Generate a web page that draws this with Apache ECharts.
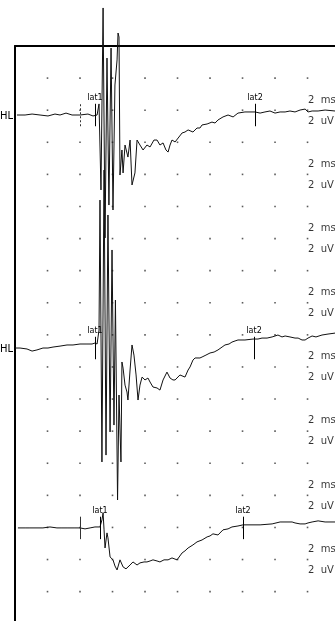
<!DOCTYPE html>
<html><head><meta charset="utf-8">
<script src="https://cdn.jsdelivr.net/npm/echarts@6/dist/echarts.min.js"></script>
<style>html,body{margin:0;padding:0;background:#fff;}#c{width:335px;height:621px;}</style>
</head><body><div id="c"></div>
<script>
// time (ms) , amplitude (uV, relative to trace baseline; positive = up)
const trace1 = [[0.12,0],[0.62,0],[1.05,0.06],[1.54,0],[2.03,-0.06],[2.46,0.06],[2.77,0],[3.14,0.12],[3.51,0],[4.00,0],[4.49,0.06],[4.80,-0.06],[5.05,0],[5.17,0.69],[5.29,-4.67],[5.42,6.67],[5.54,-7.66],[5.66,3.55],[5.78,-5.61],[5.91,4.17],[6.03,-5.92],[6.15,1.87],[6.28,3.43],[6.34,5.11],[6.40,4.86],[6.46,-3.74],[6.58,-2.18],[6.65,-3.61],[6.77,-1.87],[6.95,-2.62],[7.08,-1.56],[7.20,-4.36],[7.38,-3.61],[7.51,-1.56],[7.69,-1.87],[7.88,-2.18],[8.12,-1.87],[8.31,-1.99],[8.55,-1.56],[8.74,-1.56],[8.92,-1.87],[9.11,-1.74],[9.29,-2.18],[9.42,-2.31],[9.54,-1.87],[9.66,-1.56],[9.85,-1.68],[9.97,-1.68],[10.28,-1.12],[10.46,-1.06],[10.65,-0.93],[10.95,-1.06],[11.20,-0.81],[11.38,-0.81],[11.51,-0.62],[11.82,-0.56],[12.12,-0.44],[12.31,-0.50],[12.49,-0.31],[12.80,-0.12],[13.11,0],[13.42,-0.12],[13.72,0.12],[14.15,0.19],[14.46,0.19],[14.77,0.19],[15.08,0.12],[15.38,0.19],[15.69,0.25],[16.00,0.12],[16.31,0.19],[16.62,0.19],[16.92,0.25],[17.23,0.19],[17.54,0.31],[17.85,0.37],[18.03,0.19],[18.28,0.25],[18.65,0.25],[19.08,0.31],[19.69,0.25]];
const trace2 = [[0,0],[0.31,0],[0.74,-0.06],[1.05,-0.19],[1.35,-0.12],[1.72,0],[2.03,0],[2.34,0.06],[2.77,0.12],[3.20,0.19],[3.57,0.19],[4.00,0.25],[4.37,0.25],[4.74,0.25],[4.92,0.31],[5.05,0.25],[5.17,1.12],[5.23,9.22],[5.35,-7.10],[5.48,11.09],[5.60,-6.67],[5.72,8.29],[5.85,-5.23],[5.97,6.11],[6.09,-4.80],[6.18,2.99],[6.31,-9.47],[6.40,-2.93],[6.52,-7.10],[6.58,-0.87],[6.65,-1.25],[6.77,-2.31],[6.89,-2.74],[6.95,-3.24],[7.08,-1.37],[7.20,0.19],[7.32,-0.44],[7.45,-1.68],[7.57,-3.24],[7.69,-2.31],[7.82,-1.81],[8.00,-1.99],[8.18,-1.87],[8.31,-2.12],[8.49,-2.43],[8.74,-2.49],[8.92,-2.62],[9.11,-1.99],[9.35,-1.50],[9.54,-1.87],[9.72,-1.99],[9.85,-1.99],[10.15,-1.68],[10.46,-1.81],[10.65,-1.37],[10.77,-1.18],[10.95,-0.75],[11.08,-0.62],[11.38,-0.62],[11.51,-0.56],[11.75,-0.44],[12.00,-0.31],[12.25,-0.25],[12.49,-0.12],[12.74,0.06],[12.92,0.19],[13.17,0.25],[13.35,0.37],[13.54,0.44],[13.72,0.50],[14.15,0.50],[14.65,0.56],[14.95,0.56],[15.20,0.62],[15.51,0.62],[15.82,0.69],[16.00,0.75],[16.18,0.81],[16.43,0.69],[16.62,0.75],[16.92,0.69],[17.23,0.62],[17.42,0.62],[17.66,0.50],[17.85,0.50],[18.03,0.62],[18.28,0.75],[18.52,0.69],[18.89,0.81],[19.26,0.87],[19.69,0.93]];
const trace3 = [[0.18,0],[0.62,0],[0.92,0],[1.72,0],[2.15,0.06],[2.58,0],[2.89,0],[3.26,0],[3.69,0],[4.00,0],[4.31,-0.06],[4.62,0],[4.92,0.06],[5.23,0.06],[5.35,0.50],[5.42,0.93],[5.48,-0.12],[5.54,-1.25],[5.66,-0.31],[5.72,-0.62],[5.85,-1.81],[6.03,-1.99],[6.15,-2.37],[6.28,-2.62],[6.46,-1.99],[6.65,-2.43],[6.83,-2.55],[6.95,-2.55],[7.08,-2.31],[7.26,-2.12],[7.38,-2.24],[7.51,-2.31],[7.69,-2.18],[7.94,-2.12],[8.12,-2.12],[8.31,-2.06],[8.49,-1.99],[8.74,-2.06],[8.92,-2.12],[9.17,-1.99],[9.42,-1.99],[9.66,-1.87],[9.97,-1.99],[10.28,-1.56],[10.46,-1.43],[10.65,-1.25],[10.95,-1.06],[11.20,-0.87],[11.51,-0.75],[11.82,-0.56],[12.00,-0.50],[12.18,-0.37],[12.49,-0.44],[12.80,-0.12],[13.11,-0.06],[13.35,0.06],[13.72,0.12],[14.03,0.19],[14.46,0.19],[15.08,0.19],[15.82,0.25],[16.31,0.37],[17.05,0.37],[17.23,0.31],[17.54,0.25],[17.85,0.25],[18.03,0.31],[18.28,0.37],[18.65,0.44],[19.08,0.37],[19.69,0.37]];

const traceLabels = ['HL', 'HL', ''];
const baselinesUv = [-4.30, -18.82, -30.03];
const lat1Ms = [4.92, 4.92, 5.23];
const lat2Ms = [14.77, 14.71, 14.03];
const stimMs = [4.00, null, 4.00];
const scaleTexts = ['2  ms', '2  uV'];
const scaleRowsMsUv = [-3.36, -7.36, -11.36, -15.36, -19.36, -23.36, -27.36, -31.36];
const scaleRowsUvUv = [-4.67, -8.67, -12.67, -16.67, -20.67, -24.67, -28.67, -32.67];
const scaleXMs = 18.03;
const xMaxMs = 19.69;
const yMinUv = -35.83;
const divMs = 2, divUv = 2;

const FONT = 'DejaVu Sans';
const chart = echarts.init(document.getElementById('c'), null, {renderer: 'canvas'});

// grid dots at every division intersection
const dots = [];
for (let t = divMs; t < xMaxMs; t += divMs) {
  for (let v = -divUv; v > yMinUv; v -= divUv) dots.push([t, v]);
}

const traces = [trace1, trace2, trace3];
const lineSeries = traces.map((tr, i) => {
  const b = baselinesUv[i];
  const ml = [
    [{name: 'lat1', coord: [lat1Ms[i], b - 0.7]}, {coord: [lat1Ms[i], b + 0.7]}],
    [{name: 'lat2', coord: [lat2Ms[i], b - 0.7]}, {coord: [lat2Ms[i], b + 0.7]}]
  ];
  if (stimMs[i] != null) {
    ml.push([{name: '', coord: [stimMs[i], b - 0.7], label: {show: false},
              lineStyle: {type: i === 0 ? [2, 2] : 'solid', color: '#333'}},
             {coord: [stimMs[i], b + 0.7]}]);
  }
  return {
    type: 'line',
    data: tr.map(p => [p[0], p[1] + b]),
    symbol: 'none',
    clip: false,
    silent: true,
    animation: false,
    lineStyle: {color: '#111', width: 1},
    z: 3,
    markLine: {
      silent: true, animation: false, symbol: ['none', 'none'],
      lineStyle: {color: '#000', width: 1, type: 'solid'},
      label: {show: true, position: 'end', formatter: '{b}', fontSize: 8,
              fontFamily: FONT, color: '#000', distance: 2},
      data: ml
    }
  };
});

const scaleData = [];
scaleRowsMsUv.forEach(y => scaleData.push([scaleXMs, y, scaleTexts[0]]));
scaleRowsUvUv.forEach(y => scaleData.push([scaleXMs, y, scaleTexts[1]]));

chart.setOption({
  animation: false,
  backgroundColor: '#fff',
  grid: {left: 15, top: 46, right: 0, bottom: 0, containLabel: false},
  xAxis: {
    type: 'value', position: 'top', min: 0, max: xMaxMs, interval: divMs,
    axisLine: {show: true, onZero: false, lineStyle: {color: '#000', width: 2}},
    axisTick: {show: false}, axisLabel: {show: false}, splitLine: {show: false}
  },
  yAxis: {
    type: 'value', min: yMinUv, max: 0,
    axisLine: {show: true, onZero: false, lineStyle: {color: '#000', width: 2}},
    axisTick: {show: false}, axisLabel: {show: false}, splitLine: {show: false}
  },
  series: [
    {type: 'scatter', data: dots, symbol: 'rect', symbolSize: 1.6, silent: true,
     itemStyle: {color: '#333'}, z: 1},
    ...lineSeries,
    {type: 'scatter', data: scaleData, symbolSize: 0, silent: true, clip: false, z: 4,
     label: {show: true, position: 'right', distance: 0, formatter: p => p.data[2],
             fontSize: 10, fontFamily: FONT, color: '#000'}}
  ]
});

const g = [];
traceLabels.forEach((txt, i) => {
  if (!txt) return;
  const p = chart.convertToPixel({gridIndex: 0}, [0, baselinesUv[i]]);
  g.push({type: 'text', x: p[0] - 2, y: p[1] + 1,
          style: {text: txt, fill: '#000', font: '10px ' + FONT, align: 'right', verticalAlign: 'middle'}});
});
chart.setOption({graphic: g});
</script></body></html>
